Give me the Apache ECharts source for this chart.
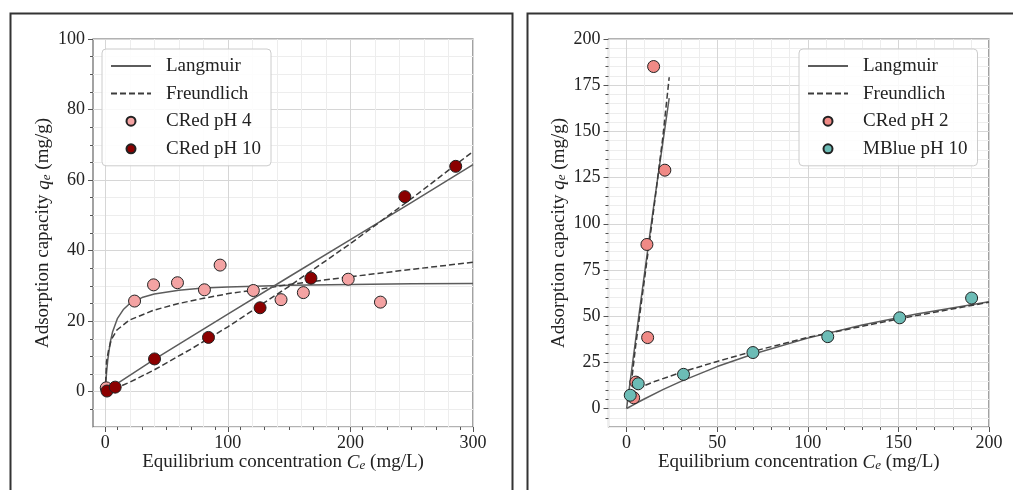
<!DOCTYPE html>
<html lang="en">
<head>
<meta charset="UTF-8">
<title>Adsorption isotherms</title>
<script src="https://cdn.jsdelivr.net/npm/echarts@6/dist/echarts.min.js"></script>
<style>
    html, body { margin: 0; padding: 0; background: #fff; }
    #main { width: 1013px; height: 490px; }
</style>
</head>
<body>
<div id="main"></div>
<script>
// ---- left panel : Congo red at pH 4 and pH 10 ----
var cePH4 = [0.8, 23.9, 39.4, 58.9, 80.9, 93.7, 120.8, 143.4, 161.6, 198.2, 224.5];
var qePH4 = [1.1, 25.7, 30.3, 30.9, 28.9, 35.9, 28.7, 26.1, 28.1, 31.9, 25.4];
var cePH10 = [1.4, 8.1, 40.2, 84.2, 126.3, 167.8, 244.4, 285.9];
var qePH10 = [0.2, 1.3, 9.3, 15.4, 23.8, 32.2, 55.3, 63.9];

// fitted curves
var langPH4X = [0, 1, 2, 4, 6, 10, 15, 20, 30, 40, 60, 80, 100, 150, 200, 250, 300];
var langPH4Y = [0, 5.2, 8.9, 13.9, 17.0, 20.8, 23.4, 25.0, 26.7, 27.7, 28.8, 29.4, 29.7, 30.2, 30.4, 30.6, 30.7];
var freuPH4X = [0, 1, 2.7, 5, 9.5, 19.6, 39.4, 59.8, 80.2, 101.9, 120.9, 150, 200, 250, 300];
var freuPH4Y = [0, 8.5, 11.8, 14.8, 17.5, 20.3, 23.1, 25.0, 26.5, 27.9, 28.8, 30.4, 32.6, 34.7, 36.7];
var langPH10X = [0, 10, 40, 100, 150, 200, 250, 300];
var langPH10Y = [0, 2.4, 9.2, 22.0, 32.6, 43.1, 53.7, 64.4];
var freuPH10X = [0, 5, 10, 20, 40, 70, 100, 150, 200, 250, 300];
var freuPH10Y = [0, 0.5, 1.2, 2.7, 6.2, 12.1, 18.4, 29.9, 42.0, 54.8, 68.1];

// ---- right panel : Congo red pH 2, methylene blue pH 10 ----
var cePH2 = [3.9, 5.1, 11.2, 11.6, 14.9, 21.1];
var qePH2 = [5.8, 14.3, 88.8, 38.4, 185.1, 129.0];
var ceMB = [2.0, 6.4, 31.4, 69.7, 111.0, 150.7, 190.4];
var qeMB = [7.2, 13.4, 18.5, 30.3, 38.9, 49.1, 59.8];

var langPH2X = [0, 5, 10, 15, 20, 23.5];
var langPH2Y = [0, 37.5, 74, 110, 144, 168];
var freuPH2X = [2.5, 5, 10, 15, 20, 23.5];
var freuPH2Y = [13, 34, 71, 108, 147, 179.3];
var langMBX = [0, 5, 10, 20, 30, 50, 70, 100, 130, 160, 200];
var langMBY = [0, 2.7, 5.3, 10.2, 14.7, 22.7, 29.5, 38.1, 45.2, 51.2, 57.8];
var freuMBX = [2, 6.4, 15, 31.4, 50, 70, 100, 150, 200];
var freuMBY = [7.5, 11, 14.5, 20, 25.5, 31, 38.5, 48.5, 57.5];

// tick labels
var leftXTicks = [0, 100, 200, 300];
var leftYTicks = [0, 20, 40, 60, 80, 100];
var rightXTicks = [0, 50, 100, 150, 200];
var rightYTicks = [0, 25, 50, 75, 100, 125, 150, 175, 200];

var xName = '{t|Equilibrium concentration }{i|C}{s|e}{t| (mg/L)}';
var yName = '{t|Adsorption capacity }{i|q}{s|e}{t| (mg/g)}';

var serif = 'Liberation Serif';
var ink = '#222';
var majorGrid = '#d6d6d6';
var minorGrid = '#ededed';

function pairs(xs, ys) {
    return xs.map(function (x, i) { return [x, ys[i]]; });
}
function mod(a, m) { return ((a % m) + m) % m; }

// one period of split line colours, so major / minor grid come out of one axis
function gridColors(min, step, major, minor) {
    var out = [];
    for (var k = 0; k < major / step; k++) {
        var v = min + k * step;
        if (mod(v, major) === 0) out.push(majorGrid);
        else if (mod(v, minor) === 0) out.push(minorGrid);
        else out.push('transparent');
    }
    return out;
}
function minorValues(min, max, minor, major) {
    var out = [];
    for (var v = min; v <= max; v += minor) {
        if (v > min && mod(v, major) !== 0) out.push(v);
    }
    return out;
}

var nameStyle = {
    rich: {
        t: { fontFamily: serif, fontSize: 19, color: ink },
        i: { fontFamily: serif, fontSize: 19, color: ink, fontStyle: 'italic' },
        s: { fontFamily: serif, fontSize: 13, color: ink, fontStyle: 'italic', verticalAlign: 'bottom' }
    }
};

function mainAxis(dir, gi, min, max, step, major, minor, name) {
    return {
        type: 'value', gridIndex: gi, min: min, max: max, interval: step,
        position: dir === 'x' ? 'bottom' : 'left',
        name: name, nameLocation: 'middle', nameGap: dir === 'x' ? 26 : 40,
        nameTextStyle: nameStyle,
        axisLine: { show: false, onZero: false },
        axisTick: { show: false },
        axisLabel: { show: false },
        splitLine: {
            show: true, showMinLine: true, showMaxLine: true,
            lineStyle: { color: gridColors(min, step, major, minor), width: 1 }
        }
    };
}
function tickAxis(dir, gi, min, max, values, len, withLabels) {
    return {
        type: 'value', gridIndex: gi, min: min, max: max,
        position: dir === 'x' ? 'bottom' : 'left',
        axisLine: { show: false, onZero: false },
        axisTick: { show: true, inside: false, length: len, customValues: values,
                    lineStyle: { color: '#555', width: 1 } },
        axisLabel: withLabels ? { show: true, customValues: values, margin: dir === 'x' ? 7 : 8,
                    fontFamily: serif, fontSize: 18, color: ink } : { show: false },
        splitLine: { show: false }
    };
}

function fitLine(name, gi, xs, ys, dashed) {
    var c = dashed ? '#3c3c3c' : '#5c5c5c';
    return {
        type: 'line', name: name, xAxisIndex: gi * 3, yAxisIndex: gi * 3,
        data: pairs(xs, ys), symbol: 'none', smooth: false, z: 2,
        lineStyle: { color: c, width: 1.5, type: dashed ? [6, 3] : 'solid' },
        itemStyle: { color: c },
        emphasis: { disabled: true }
    };
}
function dots(name, gi, xs, ys, fill) {
    return {
        type: 'scatter', name: name, xAxisIndex: gi * 3, yAxisIndex: gi * 3,
        data: pairs(xs, ys), symbol: 'circle', symbolSize: 12, z: 3,
        itemStyle: { color: fill, borderColor: '#222', borderWidth: 1, opacity: 1 },
        emphasis: { disabled: true }
    };
}
// line entries get no marker in the legend
function legendAt(left, names) {
    return {
        left: left, top: 49, orient: 'vertical',
        data: names.map(function (n, i) {
            return i < 2 ? { name: n, itemStyle: { opacity: 0 } } : { name: n };
        }),
        itemWidth: 40, itemHeight: 9, itemGap: 7.6,
        padding: [7, 10, 7, 8],
        backgroundColor: 'rgba(255,255,255,0.85)',
        borderColor: '#cccccc', borderWidth: 1, borderRadius: 4,
        selectedMode: false,
        textStyle: { fontFamily: serif, fontSize: 19, lineHeight: 20, color: ink, padding: [0, 0, 0, 10] }
    };
}

var chart = echarts.init(document.getElementById('main'), null, { renderer: 'canvas' });
chart.setOption({
    animation: false,
    backgroundColor: '#fff',
    graphic: [
        { type: 'rect', left: 8, top: 11, shape: { width: 502, height: 500 },
          style: { fill: 'none', stroke: '#333', lineWidth: 2 }, silent: true },
        { type: 'rect', left: 525, top: 11, shape: { width: 500, height: 500 },
          style: { fill: 'none', stroke: '#333', lineWidth: 2 }, silent: true }
    ],
    grid: [
        { left: 93, top: 39, width: 380, height: 388, show: true, backgroundColor: '#fff',
          borderColor: '#666', borderWidth: 1.2, containLabel: false, outerBoundsMode: 'none' },
        { left: 608.5, top: 39, width: 380.5, height: 388, show: true, backgroundColor: '#fff',
          borderColor: '#666', borderWidth: 1.2, containLabel: false, outerBoundsMode: 'none' }
    ],
    xAxis: [
        mainAxis('x', 0, -10, 300, 10, 100, 20, xName),
        tickAxis('x', 0, -10, 300, leftXTicks, 5, true),
        tickAxis('x', 0, -10, 300, minorValues(-10, 300, 20, 100).filter(function (v) { return v > 0; }), 3, false),
        mainAxis('x', 1, -10, 200, 10, 50, 10, xName),
        tickAxis('x', 1, -10, 200, rightXTicks, 5, true),
        tickAxis('x', 1, -10, 200, minorValues(-10, 200, 10, 50).filter(function (v) { return v > 0; }), 3, false)
    ],
    yAxis: [
        mainAxis('y', 0, -10, 100, 5, 20, 5, yName),
        tickAxis('y', 0, -10, 100, leftYTicks, 5, true),
        tickAxis('y', 0, -10, 100, minorValues(-10, 100, 5, 20), 3, false),
        mainAxis('y', 1, -10, 200, 5, 25, 5, yName),
        tickAxis('y', 1, -10, 200, rightYTicks, 5, true),
        tickAxis('y', 1, -10, 200, minorValues(-10, 200, 5, 25), 3, false)
    ],
    legend: [
        legendAt(102, ['Langmuir', 'Freundlich', 'CRed pH 4', 'CRed pH 10']),
        legendAt(799, ['Langmuir', 'Freundlich', 'CRed pH 2', 'MBlue pH 10'])
    ],
    series: [
        fitLine('Langmuir', 0, langPH4X, langPH4Y, false),
        fitLine('Freundlich', 0, freuPH4X, freuPH4Y, true),
        fitLine('Langmuir', 0, langPH10X, langPH10Y, false),
        fitLine('Freundlich', 0, freuPH10X, freuPH10Y, true),
        dots('CRed pH 4', 0, cePH4, qePH4, '#f4a3a3'),
        dots('CRed pH 10', 0, cePH10, qePH10, '#8b0000'),

        fitLine('Langmuir', 1, langPH2X, langPH2Y, false),
        fitLine('Freundlich', 1, freuPH2X, freuPH2Y, true),
        fitLine('Langmuir', 1, langMBX, langMBY, false),
        fitLine('Freundlich', 1, freuMBX, freuMBY, true),
        dots('CRed pH 2', 1, cePH2, qePH2, '#f08a86'),
        dots('MBlue pH 10', 1, ceMB, qeMB, '#6cbcb6')
    ]
});
</script>
</body>
</html>
